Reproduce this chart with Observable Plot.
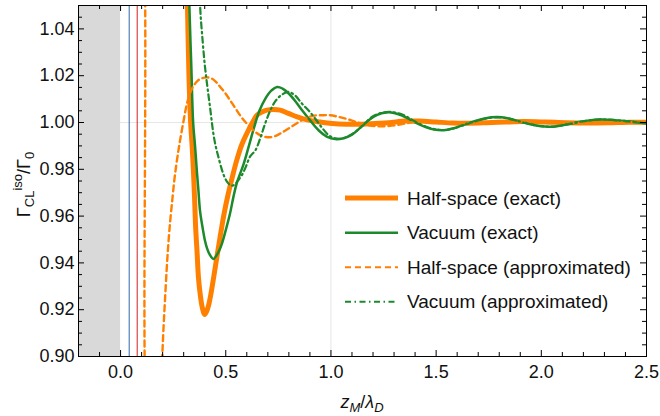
<!DOCTYPE html>
<html><head><meta charset="utf-8">
<script src="https://cdn.jsdelivr.net/npm/d3@7"></script>
<script src="https://cdn.jsdelivr.net/npm/@observablehq/plot@0.6"></script>
<style>body{margin:0;background:#fff}#chart{width:660px;height:416px}</style>
</head><body><div id="chart"></div>
<script>
// ---------- data ----------
const xDomain = [-0.2, 2.5];
const yDomain = [0.90, 1.05];
const xMajor = [0.0, 0.5, 1.0, 1.5, 2.0, 2.5];
const yMajor = [0.90, 0.92, 0.94, 0.96, 0.98, 1.00, 1.02, 1.04];
const xMinor = d3.range(-2, 26).map(i => i / 10);
const yMinor = d3.range(180, 211).map(i => i / 200);
const gridX = [1.0];
const gridY = [1.0];
const shadedRegion = [{from: -0.2, to: 0.0}];
const blueLineX = [0.041];
const redLineX = [0.079];

const halfExactX = [0.312,0.318,0.325,0.333,0.340,0.346,0.352,0.357,0.364,0.370,0.378,0.386,0.394,0.400,0.410,0.420,0.430,0.441,0.457,0.473,0.492,0.512,0.532,0.552,0.576,0.600,0.624,0.648,0.672,0.695,0.727,0.759,0.798,0.840,0.893,0.950,1.005,1.075,1.148,1.210,1.274,1.354,1.420,1.500,1.580,1.650,1.740,1.830,1.920,2.020,2.120,2.220,2.320,2.420,2.500];
const halfExactY = [1.08,1.05,1.02,1.00,0.99,0.98,0.967,0.955,0.944,0.934,0.927,0.922,0.919,0.918,0.9195,0.9225,0.927,0.933,0.942,0.951,0.961,0.9696,0.977,0.9838,0.9905,0.9953,0.9995,1.0031,1.0045,1.0053,1.0056,1.0053,1.0039,1.0024,1.0010,1.0002,0.9996,0.9993,0.9993,0.9996,0.9999,1.0006,1.0006,1.0002,0.9998,0.9997,0.9999,1.0002,1.0004,1.0002,0.9999,0.9998,0.9999,1.0001,1.0001];

const vacExactX = [0.322,0.327,0.336,0.345,0.354,0.362,0.370,0.378,0.390,0.401,0.412,0.424,0.441,0.458,0.470,0.481,0.500,0.520,0.536,0.552,0.584,0.610,0.635,0.660,0.687,0.715,0.745,0.770,0.798,0.830,0.862,0.900,0.941,0.980,1.020,1.060,1.100,1.140,1.179,1.220,1.262,1.300,1.338,1.370,1.400,1.450,1.490,1.536,1.580,1.630,1.680,1.730,1.790,1.840,1.890,1.940,1.990,2.044,2.100,2.155,2.220,2.280,2.340,2.410,2.460,2.500];
const vacExactY = [1.08,1.05,1.025,1.00,0.99,0.98,0.971,0.962,0.955,0.9496,0.946,0.9435,0.9417,0.9435,0.9455,0.948,0.954,0.961,0.968,0.9740,0.982,0.990,0.998,1.005,1.0100,1.0135,1.0152,1.0145,1.0125,1.0092,1.0053,1.0010,0.9967,0.9940,0.9929,0.9933,0.9948,0.9978,1.0010,1.0033,1.0043,1.0041,1.0030,1.0015,1.0000,0.9980,0.9970,0.9967,0.9975,0.9990,1.0005,1.0017,1.0023,1.0018,1.0006,0.9994,0.9985,0.9982,0.9988,0.9998,1.0008,1.0013,1.0011,1.0005,1.0000,0.9996];

const halfApproxX = [0.080,0.1165,0.117,0.150,0.190,0.198,0.204,0.211,0.219,0.227,0.236,0.246,0.255,0.265,0.275,0.285,0.300,0.314,0.330,0.346,0.366,0.386,0.410,0.435,0.455,0.473,0.497,0.520,0.545,0.568,0.590,0.608,0.635,0.663,0.690,0.711,0.735,0.759,0.798,0.840,0.878,0.917,0.957,0.997,1.036,1.076,1.116,1.160,1.211,1.260,1.306,1.354,1.420,1.500,1.580,1.650,1.740,1.830,1.920,2.020,2.120,2.220,2.320,2.420,2.500];
const halfApproxY = [1.30,1.06,0.88,0.80,0.885,0.90,0.912,0.924,0.937,0.948,0.958,0.967,0.975,0.982,0.988,0.9935,1.001,1.0075,1.0125,1.0155,1.0178,1.0189,1.0193,1.0187,1.0172,1.0153,1.0126,1.0096,1.0062,1.0031,1.0005,0.9988,0.9964,0.9946,0.9938,0.9937,0.9942,0.9953,0.9974,0.9998,1.0017,1.0029,1.0031,1.0031,1.0024,1.0015,1.0003,0.9992,0.9984,0.9984,0.9988,0.9996,1.0005,1.0004,0.9999,0.9997,0.9999,1.0002,1.0004,1.0002,0.9999,0.9998,0.9999,1.0001,1.0001];

const vacApproxX = [0.372,0.378,0.390,0.401,0.413,0.425,0.441,0.453,0.465,0.481,0.495,0.510,0.525,0.540,0.558,0.576,0.595,0.616,0.640,0.663,0.687,0.711,0.735,0.765,0.798,0.830,0.862,0.895,0.925,0.957,0.989,1.020,1.052,1.085,1.116,1.155,1.195,1.235,1.274,1.310,1.345,1.370,1.400,1.450,1.490,1.540,1.580,1.630,1.680,1.730,1.790,1.840,1.890,1.940,1.990,2.044,2.100,2.155,2.220,2.280,2.340,2.410,2.460,2.500];
const vacApproxY = [1.08,1.05,1.035,1.024,1.015,1.0067,0.9953,0.9895,0.9853,0.9800,0.9765,0.9742,0.9731,0.9733,0.9752,0.9774,0.9810,0.9855,0.9880,0.9930,0.9995,1.0050,1.0090,1.0118,1.0131,1.0115,1.0081,1.0050,1.0017,0.9978,0.9946,0.9932,0.9931,0.9942,0.9960,0.9990,1.0024,1.0040,1.0045,1.0042,1.0032,1.0020,1.0004,0.9983,0.9972,0.9968,0.9974,0.9988,1.0003,1.0016,1.0022,1.0018,1.0006,0.9994,0.9985,0.9982,0.9988,0.9998,1.0008,1.0013,1.0011,1.0005,1.0000,0.9996];

const seriesNames = ["Half-space (exact)", "Vacuum (exact)", "Half-space (approximated)", "Vacuum (approximated)"];

// ---------- styles ----------
const FONT = "'Liberation Sans', Arial, Helvetica, sans-serif";
const ORANGE = "#ff8000", GREEN = "#1c8a2c";
const styles = [
  {stroke: ORANGE, strokeWidth: 5, dash: null},
  {stroke: GREEN, strokeWidth: 2.5, dash: null},
  {stroke: ORANGE, strokeWidth: 2.4, dash: "6,4"},
  {stroke: GREEN, strokeWidth: 2.2, dash: "6,3.5,1.5,3.5"}
];

const W = 660, H = 416, mL = 78, mR = 14, mT = 5, mB = 60;
const FW = W - mL - mR, FH = H - mT - mB;
const pts = (xs, ys) => xs.map((x, i) => ({x, y: ys[i]}));
const series = [pts(halfExactX, halfExactY), pts(vacExactX, vacExactY), pts(halfApproxX, halfApproxY), pts(vacApproxX, vacApproxY)];
const isMajorX = v => xMajor.some(m => Math.abs(m - v) < 1e-9);
const isMajorY = v => yMajor.some(m => Math.abs(m - v) < 1e-9);

const marks = [
  Plot.ruleX(gridX, {stroke: "#e6e6e6", strokeWidth: 1}),
  Plot.ruleY(gridY, {stroke: "#e6e6e6", strokeWidth: 1}),
  Plot.rect(shadedRegion, {x1: "from", x2: "to", y1: () => yDomain[0], y2: () => yDomain[1], fill: "#d9d9d9"}),
  Plot.ruleX(blueLineX, {stroke: "#2f67ad", strokeWidth: 1}),
  Plot.ruleX(redLineX, {stroke: "#d31f1f", strokeWidth: 1}),
];
series.forEach((data, i) => {
  const s = styles[i];
  marks.push(Plot.line(data, {x: "x", y: "y", stroke: s.stroke, strokeWidth: s.strokeWidth, strokeDasharray: s.dash, curve: "catmull-rom", clip: true}));
});
// inward ticks on all four sides
const xMin = xMinor.filter(v => !isMajorX(v)), yMin = yMinor.filter(v => !isMajorY(v));
const tickLenMaj = 6, tickLenMin = 4;
marks.push(
  Plot.tickX(xMajor, {x: d => d, insetTop: FH - tickLenMaj, stroke: "black"}),
  Plot.tickX(xMin, {x: d => d, insetTop: FH - tickLenMin, stroke: "black"}),
  Plot.tickX(xMajor, {x: d => d, insetBottom: FH - tickLenMaj, stroke: "black"}),
  Plot.tickX(xMin, {x: d => d, insetBottom: FH - tickLenMin, stroke: "black"}),
  Plot.tickY(yMajor, {y: d => d, insetRight: FW - tickLenMaj, stroke: "black"}),
  Plot.tickY(yMin, {y: d => d, insetRight: FW - tickLenMin, stroke: "black"}),
  Plot.tickY(yMajor, {y: d => d, insetLeft: FW - tickLenMaj, stroke: "black"}),
  Plot.tickY(yMin, {y: d => d, insetLeft: FW - tickLenMin, stroke: "black"}),
  Plot.frame({stroke: "black", strokeWidth: 1}),
  Plot.axisX({ticks: xMajor, tickSize: 0, tickPadding: 9, tickFormat: d3.format(".1f"), fontSize: 18, label: null, fill: "#111"}),
  Plot.axisY({ticks: yMajor, tickSize: 0, tickPadding: 4, tickFormat: d3.format(".2f"), fontSize: 18, label: null, fill: "#111"})
);

const svg = Plot.plot({
  width: W, height: H,
  marginLeft: mL, marginRight: mR, marginTop: mT, marginBottom: mB,
  x: {domain: xDomain},
  y: {domain: yDomain},
  style: {fontFamily: FONT, fontSize: "18px", background: "#fff", color: "#111"},
  marks
});
const S = d3.select(svg);

// y-axis label
const yl = S.append("text").attr("transform", `translate(30,${mT + FH / 2 + 4}) rotate(-90)`)
  .attr("text-anchor", "middle").attr("font-family", FONT).attr("font-size", 18).attr("fill", "#111");
yl.append("tspan").text("Γ");
yl.append("tspan").attr("font-size", 13).attr("dy", 4).text("CL");
yl.append("tspan").attr("font-size", 13).attr("dy", -12).text("iso");
yl.append("tspan").attr("dy", 8).text("/Γ");
yl.append("tspan").attr("font-size", 13).attr("dy", 4).text("0");

// x-axis label
const xl = S.append("text").attr("x", mL + FW / 2).attr("y", 408)
  .attr("text-anchor", "middle").attr("font-family", FONT).attr("font-size", 18).attr("fill", "#111");
xl.append("tspan").attr("font-style", "italic").text("z");
xl.append("tspan").attr("font-style", "italic").attr("font-size", 13).attr("dy", 4).text("M");
xl.append("tspan").attr("dy", -4).text("/");
xl.append("tspan").attr("font-style", "italic").text("λ");
xl.append("tspan").attr("font-style", "italic").attr("font-size", 13).attr("dy", 4).text("D");

// legend
const legY = [198, 232.7, 267.3, 301.7];
const lg = S.append("g").attr("text-anchor", "start");
seriesNames.forEach((name, i) => {
  const s = styles[i];
  lg.append("line").attr("x1", 345).attr("x2", 398).attr("y1", legY[i]).attr("y2", legY[i])
    .attr("stroke", s.stroke).attr("stroke-width", i >= 2 ? 2 : s.strokeWidth)
    .attr("stroke-dasharray", s.dash);
  lg.append("text").attr("x", 407).attr("y", legY[i]).attr("dy", "0.35em").attr("text-anchor", "start")
    .attr("font-family", FONT).attr("font-size", 19).attr("fill", "#111").text(name);
});

document.getElementById("chart").appendChild(svg);
</script></body></html>
